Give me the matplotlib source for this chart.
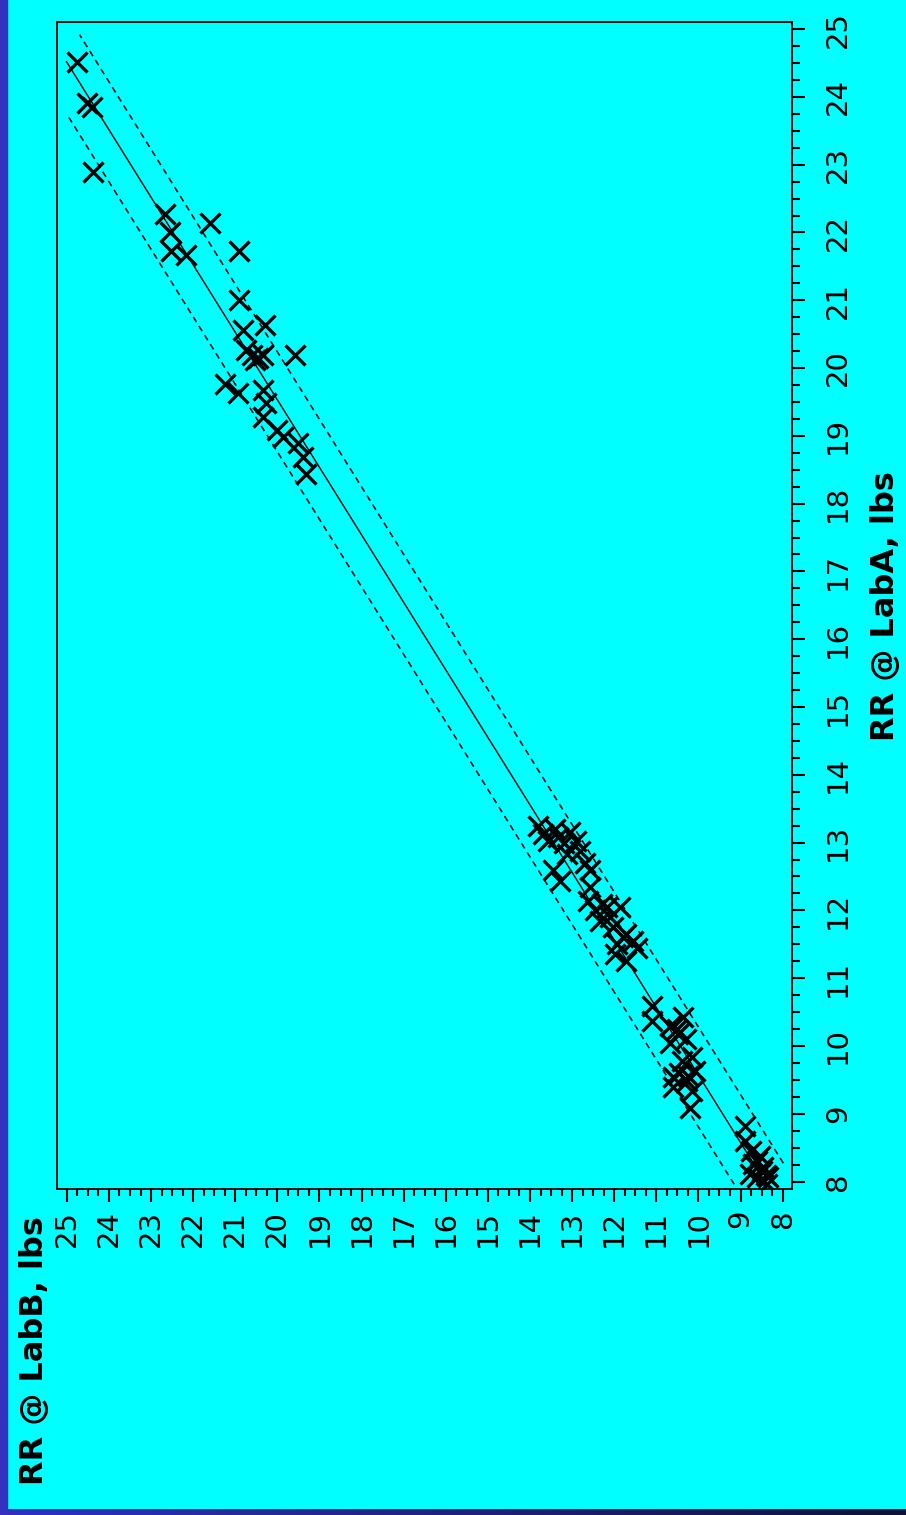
import matplotlib
matplotlib.use("Agg")
import matplotlib.pyplot as plt
from matplotlib.ticker import MultipleLocator
import numpy as np

# RR readings, same samples measured at two labs (lbs)
lab_a = [24.52, 23.91, 23.85, 22.89, 22.28, 22.01, 21.72, 21.67, 22.14, 21.72,
         21.00, 20.56, 20.63, 20.19, 20.26, 20.12, 20.19, 19.77, 19.63, 19.67,
         19.48, 19.28, 19.08, 18.89, 18.69, 18.44, 18.98, 20.20, 20.15,
         13.25, 13.13, 13.03, 13.08, 13.15, 13.03, 12.83, 12.88, 12.59, 12.44,
         12.59, 12.34, 12.14, 12.00, 12.05, 12.05, 11.85, 11.75, 11.65, 11.51,
         11.55, 11.36, 11.26, 11.45, 13.20, 13.00, 12.70, 12.10, 11.90, 11.60,
         10.59, 10.37, 10.30, 10.18, 10.42, 10.05, 9.78, 9.83, 9.54, 9.49,
         9.39, 9.34, 9.09, 9.63, 10.25, 10.10, 9.60, 9.55,
         8.82, 8.60, 8.45, 8.26, 8.21, 8.06, 8.06, 7.96, 8.11, 8.38, 8.30, 8.15, 8.10]
lab_b = [24.75, 24.51, 24.41, 24.39, 22.68, 22.54, 22.52, 22.16, 21.61, 20.90,
         20.90, 20.82, 20.30, 19.59, 20.74, 20.54, 20.34, 21.25, 20.94, 20.34,
         20.26, 20.34, 20.02, 19.51, 19.39, 19.31, 19.87, 20.60, 20.45,
         13.81, 13.69, 13.57, 13.33, 13.05, 12.90, 13.13, 12.82, 13.45, 13.29,
         12.58, 12.58, 12.62, 12.46, 12.18, 11.87, 12.34, 12.03, 11.71, 11.94,
         11.55, 11.99, 11.71, 11.47, 13.40, 13.20, 12.70, 12.30, 12.10, 11.80,
         11.11, 11.11, 10.68, 10.48, 10.36, 10.68, 10.40, 10.16, 10.60, 10.28,
         10.60, 10.16, 10.20, 10.08, 10.50, 10.30, 10.45, 10.25,
         8.90, 8.90, 8.74, 8.70, 8.46, 8.62, 8.34, 8.38, 8.78, 8.54, 8.60, 8.50, 8.40]

# fitted line LabB = intercept + slope * LabA, and prediction band offsets
fit_intercept = 0.39
fit_slope = 1.004
band_hi = 0.77
band_lo = -0.71
band_hi_range = [7.96, 23.72]
band_lo_range = [8.27, 24.92]

ticks = list(range(8, 26))

fig = plt.figure(figsize=(9.06, 15.15), dpi=100)
fig.patch.set_facecolor("#00ffff")

ax = fig.add_axes([0.0626, 0.2152, 0.8119, 0.7705])
ax.set_facecolor("#00ffff")

a = np.array(lab_a)
b = np.array(lab_b)

# portrait layout: LabB runs right-to-left along the bottom, LabA up the right side
ax.plot(b, a, ls="none", marker="x", ms=15, mew=2.4, color="black")

aa = np.linspace(a.min(), a.max(), 50)
ax.plot(fit_intercept + fit_slope * aa, aa, color="black", lw=1.0)

ah = np.linspace(band_hi_range[0], band_hi_range[1], 50)
ax.plot(fit_intercept + fit_slope * ah + band_hi, ah, color="black", lw=1.1,
        ls=(0, (4, 3)))
al = np.linspace(band_lo_range[0], band_lo_range[1], 50)
ax.plot(fit_intercept + fit_slope * al + band_lo, al, color="black", lw=1.1,
        ls=(0, (4, 3)))

ax.set_xlim(25.24, 7.77)
ax.set_ylim(7.89, 25.11)

for s in ax.spines.values():
    s.set_linewidth(1.3)
    s.set_color("black")

ax.xaxis.set_minor_locator(MultipleLocator(0.25))
ax.yaxis.set_minor_locator(MultipleLocator(0.25))
ax.set_xticks(ticks)
ax.set_yticks(ticks)
ax.yaxis.tick_right()
ax.tick_params(which="both", direction="out", color="black", width=1.5)
ax.tick_params(axis="x", which="major", length=9, pad=6, labelsize=21, labelrotation=90)
ax.tick_params(axis="x", which="minor", length=5)
ax.tick_params(axis="y", which="major", length=9, pad=14, labelsize=21, labelrotation=90)
ax.tick_params(axis="y", which="minor", length=6)
for lab in ax.get_yticklabels():
    lab.set_verticalalignment("center")

fig.text(35 / 906, 1 - 1485 / 1515, "RR @ LabB, lbs", rotation=90, ha="center",
         va="bottom", fontsize=23, fontweight="bold")
fig.text(885 / 906, 1 - 606.5 / 1515, "RR @ LabA, lbs", rotation=90, ha="center",
         va="center", fontsize=23, fontweight="bold")

# window frame strips
fig.patches.append(plt.Rectangle((0, 0), 7 / 906, 1, transform=fig.transFigure,
                                 color="#3430c0", zorder=5))
strip = fig.add_axes([0, 0, 1, 6 / 1515])
strip.imshow(np.linspace(0, 1, 256)[None, :], aspect="auto",
             cmap=matplotlib.colors.LinearSegmentedColormap.from_list("s", ["#3430c0", "#10103a"]))
strip.set_axis_off()

fig.savefig("out.png", dpi=100, facecolor=fig.get_facecolor())
